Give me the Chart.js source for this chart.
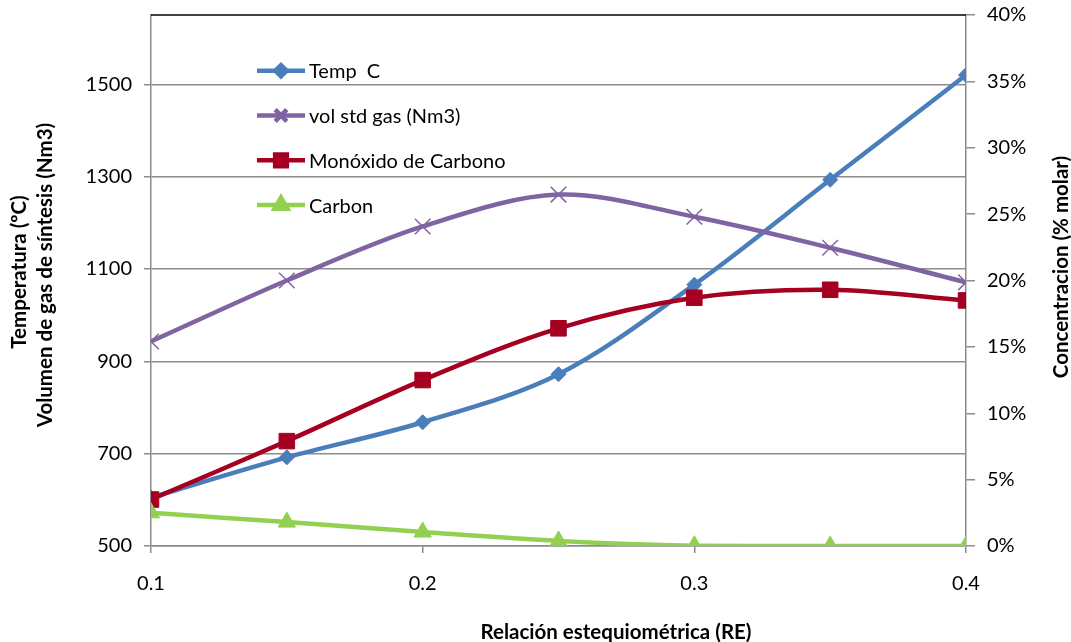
<!DOCTYPE html>
<html>
<head>
<meta charset="utf-8">
<script src="https://cdn.jsdelivr.net/npm/chart.js@4.4.0/dist/chart.umd.min.js"></script>
<style>
  html, body { margin: 0; padding: 0; background: #ffffff; }
  #wrap { width: 1071px; height: 642px; position: relative; }
</style>
</head>
<body>
<div id="wrap"><canvas id="c" width="1071" height="642"></canvas></div>
<script>
// Relación estequiométrica (RE)
const re = [0.1, 0.15, 0.2, 0.25, 0.3, 0.35, 0.4];
// Left axis series
const tempC = [605, 692, 768, 872, 1066, 1293, 1520];
const volGas = [943, 1075, 1192, 1261, 1213, 1146, 1071];
// Right axis series (% molar)
const coPct = [3.5, 7.9, 12.5, 16.4, 18.7, 19.3, 18.5];
const carbonPct = [2.5, 1.8, 1.05, 0.38, 0.02, 0, 0];

const seriesNames = ['Temp  C', 'vol std gas (Nm3)', 'Monóxido de Carbono', 'Carbon'];
const xTicks = [0.1, 0.2, 0.3, 0.4];
const leftTicks = [500, 700, 900, 1100, 1300, 1500];
const rightTicks = [0, 5, 10, 15, 20, 25, 30, 35, 40];

const FONT = 'Lato, "Open Sans", sans-serif';
const GRID = '#8c8c8c';
const TICK_SIZE = 20;
const TITLE_SIZE = 20.5;

const toPoints = (ys) => re.map((x, i) => ({ x: x, y: ys[i] }));

const styles = [
  { color: '#4a7ebb', pointStyle: 'rectRot', radius: 7.5, yAxisID: 'yL', data: tempC, order: 3 },
  { color: '#8064a2', pointStyle: 'crossRot', radius: 11, yAxisID: 'yL', data: volGas, order: 2 },
  { color: '#a50021', pointStyle: 'rect', radius: 11, yAxisID: 'yR', data: coPct, order: 1 },
  { color: '#92d050', pointStyle: 'triangle', radius: 10, yAxisID: 'yR', data: carbonPct, order: 0 }
];

const datasets = styles.map((s, i) => ({
  label: seriesNames[i],
  data: toPoints(s.data),
  yAxisID: s.yAxisID,
  order: s.order,
  borderColor: s.color,
  backgroundColor: s.color,
  borderWidth: 4.5,
  tension: 0.33,
  pointStyle: s.pointStyle,
  pointRadius: s.radius,
  pointBorderWidth: s.pointStyle === 'crossRot' ? 1.5 : 1,
  pointBorderColor: s.color,
  pointBackgroundColor: s.color
}));

// keep the plot frame fixed regardless of tick label overhang
const noVPad = (sc) => { sc.paddingTop = 0; sc.paddingBottom = 0; };
const noHPad = (sc) => { sc.paddingLeft = 0; sc.paddingRight = 0; };

// Titles, in-plot legend and the top frame line
const decor = {
  id: 'decor',
  afterDraw(chart) {
    const ctx = chart.ctx;
    const a = chart.chartArea;
    ctx.save();

    // top frame line
    ctx.strokeStyle = '#000000';
    ctx.lineWidth = 1.5;
    ctx.beginPath();
    ctx.moveTo(a.left, a.top);
    ctx.lineTo(a.right, a.top);
    ctx.stroke();

    // legend
    const lx0 = 257, lx1 = 305, ly0 = 70.7, step = 44.8;
    styles.forEach((s, i) => {
      const y = ly0 + i * step;
      ctx.strokeStyle = s.color;
      ctx.fillStyle = s.color;
      ctx.lineWidth = 4.5;
      ctx.lineCap = 'butt';
      ctx.beginPath();
      ctx.moveTo(lx0, y);
      ctx.lineTo(lx1, y);
      ctx.stroke();
      Chart.helpers.drawPoint(ctx, {
        pointStyle: s.pointStyle,
        radius: s.radius * 0.75,
        rotation: 0,
        borderWidth: s.pointStyle === 'crossRot' ? 1.5 : 1
      }, (lx0 + lx1) / 2, y);
      ctx.fillStyle = '#000000';
      ctx.font = TICK_SIZE + 'px ' + FONT;
      ctx.textAlign = 'left';
      ctx.textBaseline = 'middle';
      ctx.fillText(seriesNames[i], 309, y + 1);
    });

    // axis titles
    ctx.fillStyle = '#000000';
    ctx.font = 'bold ' + TITLE_SIZE + 'px ' + FONT;
    ctx.textAlign = 'center';
    ctx.textBaseline = 'middle';

    ctx.save();
    ctx.translate(19, 272);
    ctx.rotate(-Math.PI / 2);
    ctx.fillText('Temperatura (ºC)', 0, 0);
    ctx.restore();

    ctx.save();
    ctx.translate(45, 275);
    ctx.rotate(-Math.PI / 2);
    ctx.fillText('Volumen de gas de síntesis (Nm3)', 0, 0);
    ctx.restore();

    ctx.save();
    ctx.translate(1061, 267);
    ctx.rotate(-Math.PI / 2);
    ctx.fillText('Concentracion (% molar)', 0, 0);
    ctx.restore();

    ctx.textBaseline = 'alphabetic';
    ctx.fillText('Relación estequiométrica (RE)', 616, 639);

    ctx.restore();
  }
};

new Chart(document.getElementById('c'), {
  type: 'line',
  data: { datasets: datasets },
  plugins: [decor],
  options: {
    responsive: false,
    devicePixelRatio: 1,
    animation: false,
    layout: { padding: { top: 15, left: 0, right: 0, bottom: 0 } },
    plugins: { legend: { display: false }, tooltip: { enabled: false } },
    scales: {
      x: {
        type: 'linear',
        min: 0.1,
        max: 0.4,
        afterBuildTicks: (sc) => { sc.ticks = xTicks.map(v => ({ value: v })); },
        afterFit: (sc) => { sc.height = 96; noHPad(sc); },
        ticks: {
          color: '#000000',
          font: { family: FONT, size: TICK_SIZE },
          padding: 19,
          maxRotation: 0,
          callback: (v) => v.toFixed(1)
        },
        grid: { drawOnChartArea: false, drawTicks: true, tickLength: 7, color: GRID, lineWidth: 1.5 },
        border: { display: true, color: GRID, width: 1.5 }
      },
      yL: {
        type: 'linear',
        position: 'left',
        min: 500,
        max: 1650,
        afterBuildTicks: (sc) => { sc.ticks = leftTicks.map(v => ({ value: v })); },
        afterFit: (sc) => { sc.width = 151; noVPad(sc); },
        ticks: {
          color: '#000000',
          font: { family: FONT, size: TICK_SIZE },
          padding: 12,
          callback: (v) => String(v)
        },
        grid: { drawOnChartArea: true, drawTicks: true, tickLength: 7, color: GRID, lineWidth: 1.5 },
        border: { display: true, color: GRID, width: 1.5 }
      },
      yR: {
        type: 'linear',
        position: 'right',
        min: 0,
        max: 40,
        afterBuildTicks: (sc) => { sc.ticks = rightTicks.map(v => ({ value: v })); },
        afterFit: (sc) => { sc.width = 105; noVPad(sc); },
        ticks: {
          color: '#000000',
          font: { family: FONT, size: TICK_SIZE },
          padding: 12,
          callback: (v) => v + '%'
        },
        grid: { drawOnChartArea: false, drawTicks: true, tickLength: 9, color: GRID, lineWidth: 1.5 },
        border: { display: true, color: GRID, width: 1.5 }
      }
    }
  }
});
</script>
</body>
</html>
